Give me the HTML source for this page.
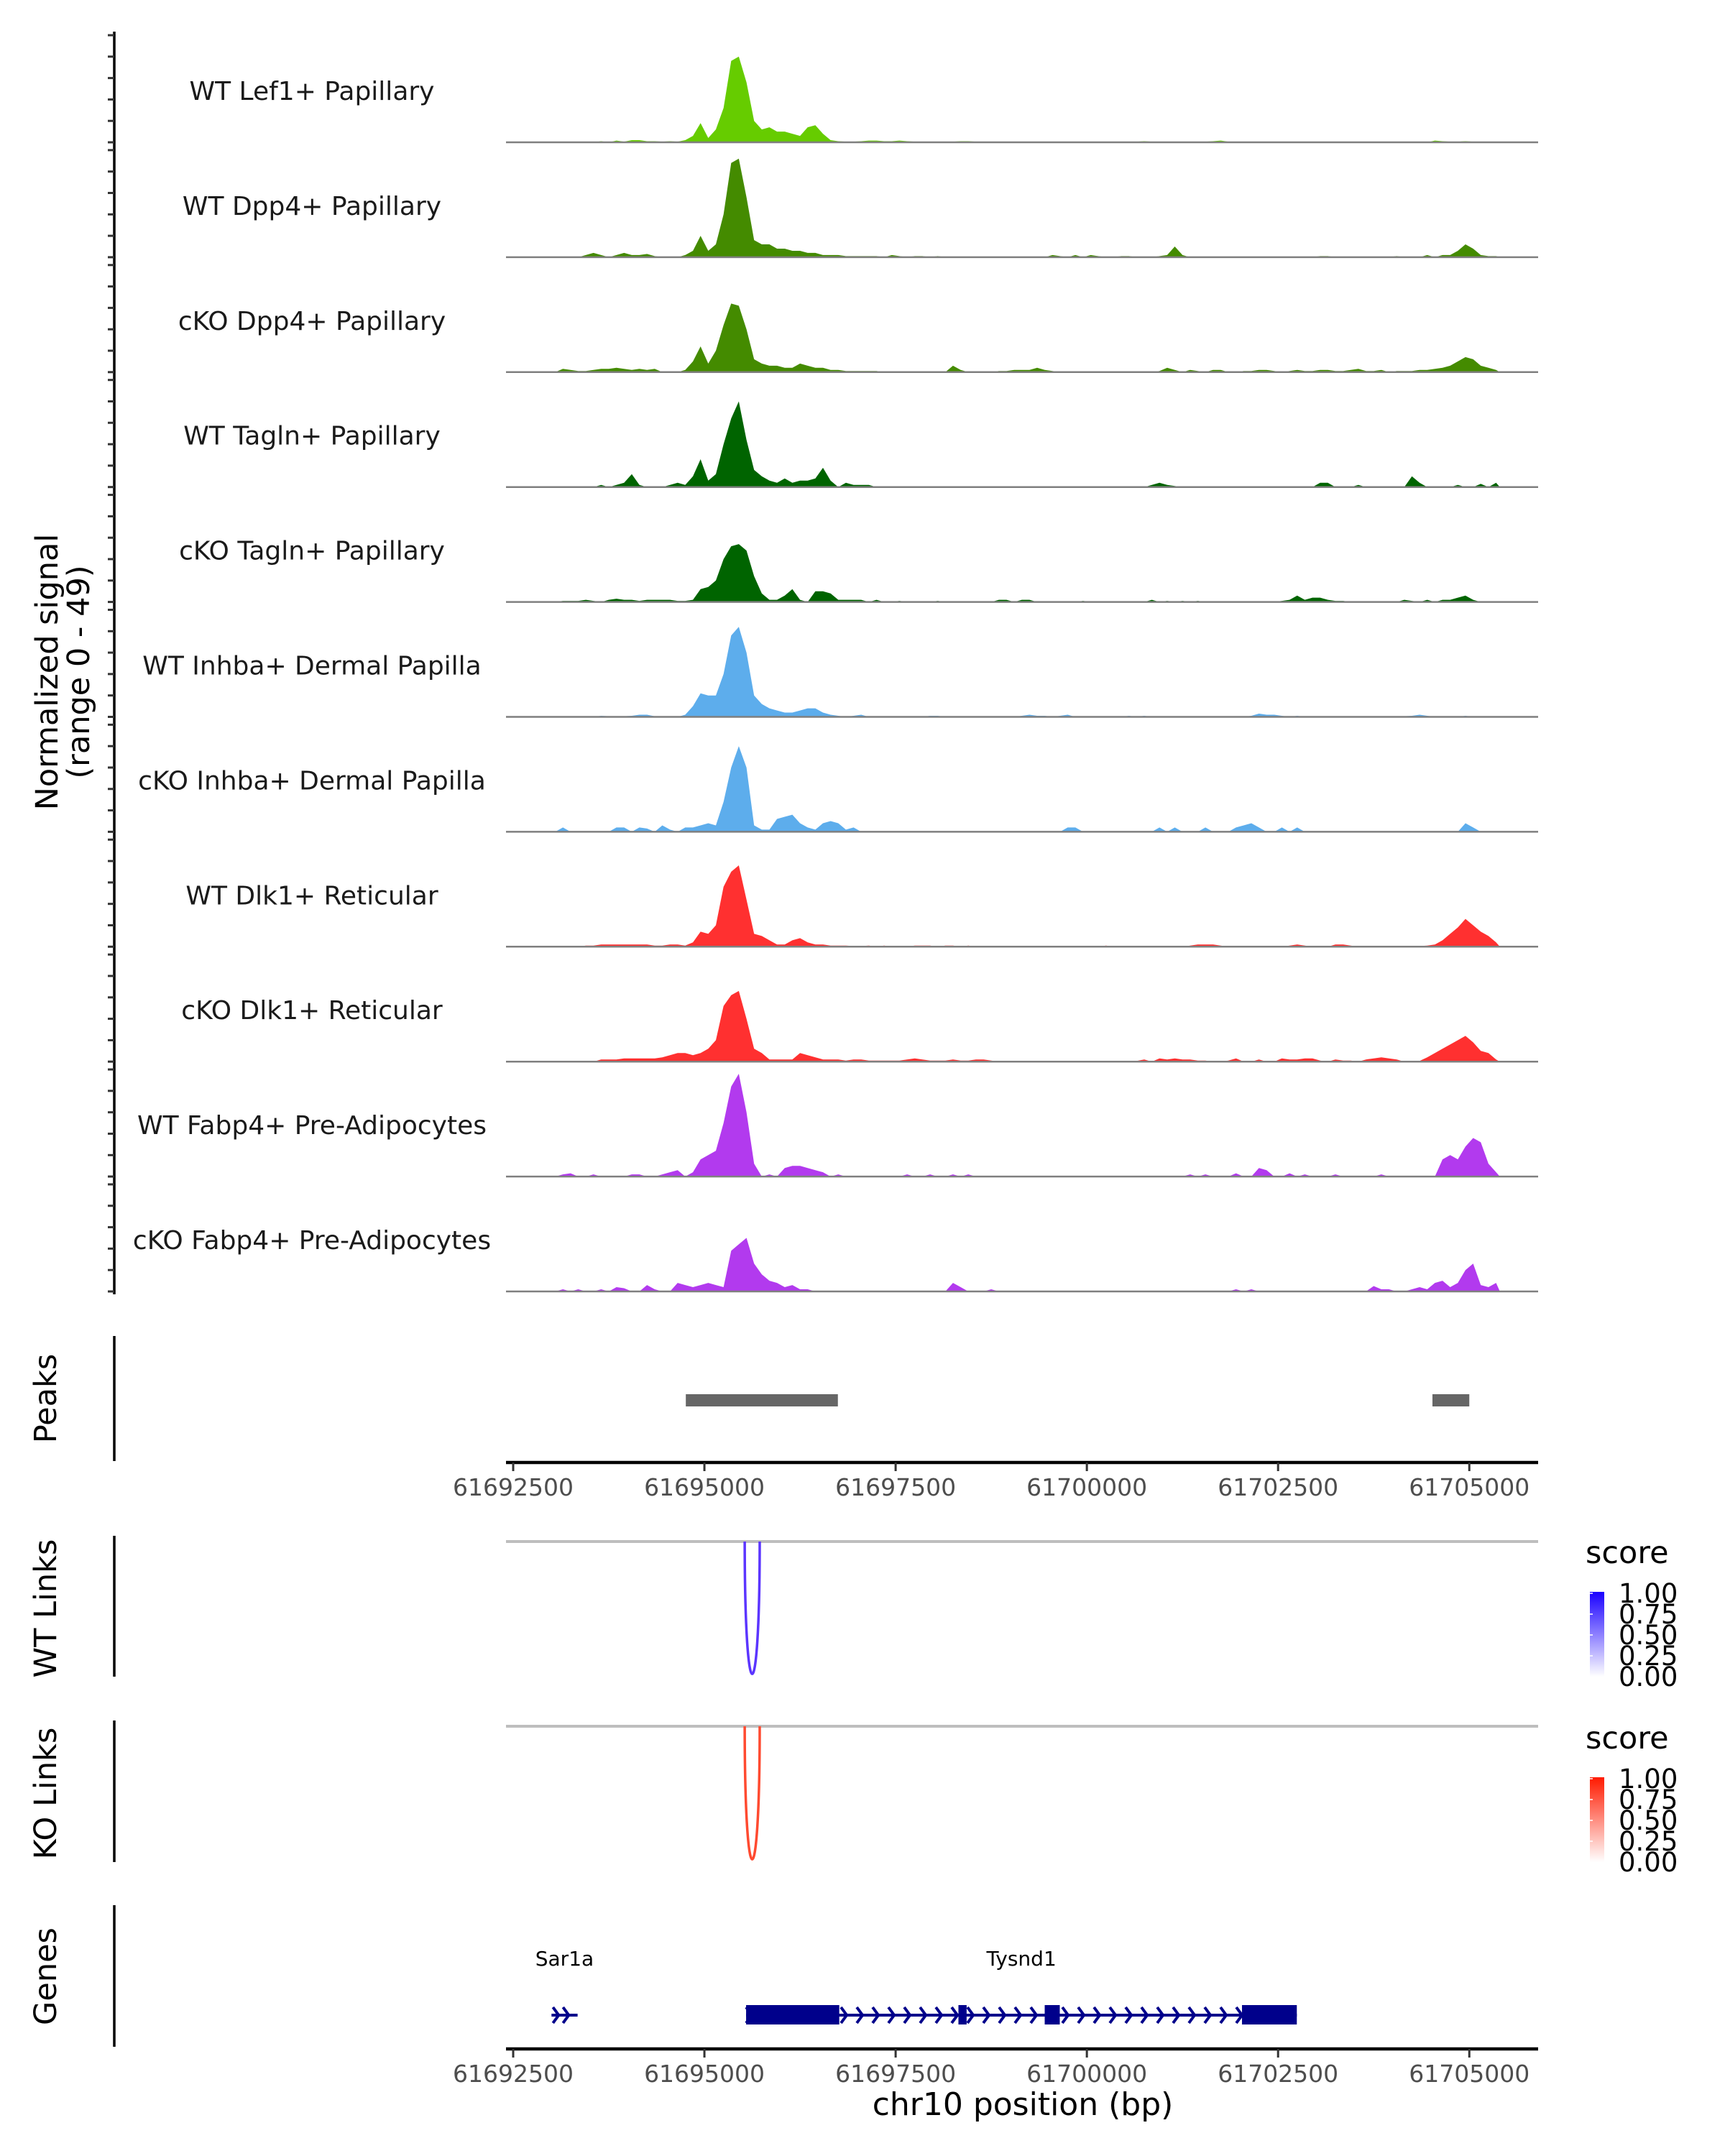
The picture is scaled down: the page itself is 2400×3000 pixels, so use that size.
<!DOCTYPE html>
<html><head><meta charset="utf-8">
<style>
html,body{margin:0;padding:0;background:#fff;}
svg{display:block;font-family:"DejaVu Sans","Liberation Sans",sans-serif;}
</style></head>
<body>
<svg id="chart" width="2400" height="3000" viewBox="0 0 2400 3000" xmlns="http://www.w3.org/2000/svg">
<defs>
<linearGradient id="gBlue" x1="0" y1="1" x2="0" y2="0"><stop offset="0" stop-color="#ffffff"/><stop offset="1" stop-color="#1a00ff"/></linearGradient>
<linearGradient id="gRed" x1="0" y1="1" x2="0" y2="0"><stop offset="0" stop-color="#ffffff"/><stop offset="1" stop-color="#ff1a00"/></linearGradient>
</defs>
</svg>
<script>
// ---------- data ----------
const binStart = 61693000;
const binSize = 100;
const trackNames = ["WT Lef1+ Papillary","WT Dpp4+ Papillary","cKO Dpp4+ Papillary","WT Tagln+ Papillary","cKO Tagln+ Papillary","WT Inhba+ Dermal Papilla","cKO Inhba+ Dermal Papilla","WT Dlk1+ Reticular","cKO Dlk1+ Reticular","WT Fabp4+ Pre-Adipocytes","cKO Fabp4+ Pre-Adipocytes"];
const trackColors = ["#66cc00","#448b00","#448b00","#006400","#006400","#5dadec","#5dadec","#ff3030","#ff3030","#b23aee","#b23aee"];
const sigLef1WT = [0,0,0,0.3,0.3,0,0.5,0,0.8,0.3, 1,1,0.5,0.5,0.3,0.5,0.3,1,3,9, 2,6,16,38,40,28,10,6,7,5, 5,4,3,7,8,4,1,0.5,0.3,0.3, 0.5,0.8,0.8,0.5,0.5,0.8,0.5,0.3,0.3,0.3, 0.3,0,0.3,0.5,0.5,0.3,0.3,0,0.3,0, 0,0.3,0,0,0.3,0,0.3,0.3,0,0, 0,0,0,0.3,0.3,0,0.3,0.5,0.3,0.3, 0.3,0.3,0,0.3,0.3,0.3,0.5,0.8,0.3,0, 0,0,0.3,0.3,0.3,0,0.3,0,0,0, 0.3,0.3,0,0.3,0.3,0,0,0,0,0, 0,0,0.3,0.3,0,0.8,0.5,0.3,0.3,0.5, 0.3,0.3,0,0];
const sigDpp4WT = [0,0,0,0,1,2,1,0,1,2, 1,1,1.5,0.5,0,0,0,1,3,10, 3,6,20,44,46,28,8,6,6,4, 4,3,3,2,2,1,1,1,0.5,0.5, 0.5,0.5,0.5,0,1,0.5,0,0.5,0.5,0, 0.5,0,0,0,0,0,0,0,0,0, 0,0,0,0,0,1,0.5,0,1,0, 1,0.5,0,0,0.5,0.5,0,0,0,0.5, 1,5,1,0,0,0,0,0,0,0, 0,0,0,0,0,0,0,0,0,0, 0.5,0.5,0,0,0,0,0,0,0,0, 0.5,0,0,0,1,0,1,1,3,6, 4,1,0.5,0.5];
const sigDpp4KO = [0,1.5,1,0.5,0.5,1,1.5,1.5,2,1.5, 1,1.5,1,1.5,0,0,0,1,5,12, 4,10,22,32,31,20,6,4,3,3, 2,2,4,3,2,2,1,1,0.5,0.5, 0.5,0.5,0.5,0,0.3,0.3,0,0.3,0,0, 0,0,3,1,0,0,0,0,0.5,0.5, 1,1,1,2,1,0.5,0,0,0.3,0.3, 0.3,0.3,0,0.3,0,0.3,0,0,0,0.5, 2,1,0,1,0.5,0,1,1,0,0, 0.5,0.5,1,1,0.5,0,0.5,1,0.5,0.5, 1,1,0.5,0.5,1,1.5,0.5,0.5,1,0, 0.5,0.5,0.5,1,1,1.5,2,3,5,7, 6,3,2,1];
const sigTaglnWT = [0,0,0,0,0,0,1,0,1,2, 6,1,0,0,0,1,2,1,5,13, 3,6,20,32,40,22,8,5,3,2, 4,2,3,3,4,9,3,0,2,1, 1,1,0,0,0,0,0,0,0,0, 0,0,0,0,0,0,0,0,0,0, 0,0,0,0,0,0,0,0,0,0, 0,0,0,0,0,0,0,0,1,2, 1,0.5,0,0,0,0,0,0,0,0, 0,0,0,0,0,0,0,0,0,0, 2,2,0,0,0,1,0,0,0,0, 0,0,5,2,0,0,0,0,1,0, 0,1.5,0,2];
const sigTaglnKO = [0,0.5,0.5,0.5,1,0.5,0,1,1.5,1, 1,0.5,1,1,1,1,0.5,0.5,1,6, 7,10,20,26,27,24,12,4,1,1, 3,6,1,0,5,5,4,1,1,1, 1,0,1,0,0,0.5,0,0,0,0, 0.5,0,0,0,0,0,0,0,1,1, 0,1,1,0,0,0,0,0,0,0.5, 0,0,0,0,0,0,0,0,1,0, 0.5,0,0.5,0,0.5,0,0,0,0,0, 0,0,0,0,0,0.5,1,3,1,2, 2,1,0.5,0.5,0,0,0,0,0,0, 0,1,0.5,0,1,0,1,1,2,3, 1,0,0,0];
const sigInhbaWT = [0,0,0,0.3,0.3,0,0.5,0.3,0,0.3, 0.5,1,1,0.3,0,0,0,1,5,11, 10,10,20,38,42,30,10,6,4,3, 2,2,3,4,4,2,1,0.5,0,0.5, 1,0,0,0,0,0.3,0,0,0,0.5, 0.5,0,0,0,0,0,0,0,0.3,0, 0,0.5,1,0.5,0.5,0,0.5,1,0,0, 0,0,0,0,0,0.5,0,0.5,0,0, 0,0,0,0,0,0,0,0.3,0,0.3, 0,0.5,1.5,1,1,0.5,0,0.5,0,0, 0,0,0,0,0,0,0,0,0,0, 0,0.3,0.5,1,0.5,0,0,0,0,0.5, 0,0,0,0];
const sigInhbaKO = [0,2,0,0,0,0,0,0,2,2, 0,2,1.5,0,3,1,0,2,2,3, 4,3,14,30,40,30,3,1,1,6, 7,8,4,2,1,4,5,4,1,2, 0,0,0,0,0,0,0,0,0,0, 0,0,0,0,0,0,0,0,0,0, 0,0,0,0,0,0,0,2,2,0, 0,0,0,0,0,0,0,0,0,2, 0,2,0,0,0,2,0,0,0,2, 3,4,2,0,0,2,0,2,0,0, 0,0,0,0,0,0,0,0,0,0, 0,0,0,0,0,0,0,0,0,4, 2,0,0,0];
const sigDlk1WT = [0,0,0,0,0.5,0.5,1,1,1,1, 1,1,1,0.5,0.5,1,1,0.5,2,7, 6,10,28,35,38,22,6,5,3,1, 1,3,4,2,1,1,0.5,0.5,0.5,0.3, 0.3,0.5,0,0.5,0,0,0,0.5,0.5,0.5, 0,0.5,0.5,0,0.5,0,0,0,0,0, 0,0,0,0,0,0,0,0,0,0, 0,0,0.5,0,0,0,0,0,0,0, 0,0,0,0.5,1,1,1,0.5,0,0, 0,0,0,0,0,0,0.5,1,0.5,0, 0,0,1,1,0.5,0,0,0,0,0, 0,0,0.3,0.3,0.5,1,3,6,9,13, 10,7,5,2];
const sigDlk1KO = [0,0.3,0,0,0.3,0,1,1,1,1.5, 1.5,1.5,1.5,1.5,2,3,4,4,3,4, 6,10,26,31,33,20,6,4,1,1, 1,1,4,3,2,1,1,1,0.5,1, 1,0.5,0.5,0.5,0.5,0.5,1,1.5,1,0.5, 0.5,0.5,1,0.5,0.5,1,1,0.5,0,0.3, 0,0,0,0,0,0,0,0,0,0, 0,0,0,0,0,0,0.3,1,0,1.5, 1,1.5,1,1,0.5,0.5,0,0,0.5,1.5, 0,0,1,0,0,1.5,1,1,1.5,1.5, 0.5,0,1,0.5,0.5,0,1,1.5,2,1.5, 1,0,0,0.3,2,4,6,8,10,12, 9,5,4,1];
const sigFabp4WT = [0,1,1.5,0,0,1,0,0,0,0, 1,1,0,0,1,2,3,0,2,8, 10,12,25,42,48,30,6,0,1,0, 4,5,5,4,3,2,0,1,0,0, 0,0,0,0,0,0,1,0,0,1, 0,0,1,0,1,0,0,0,0,0, 0,0,0,0,0,0,0,0,0,0, 0,0,0,0,0,0,0,0,0,0, 0,0,0,1,0,1,0,0,0,1.5, 0,0,4,3,0,0,1.5,0,1,0, 0,0,1,0,0,0,0,0,1,0, 0,0,0,0,0,0,8,10,8,14, 18,16,6,2];
const sigFabp4KO = [0,1,0,1,0,0,1,0,2,1.5, 0,0,3,1,0,0,4,3,2,3, 4,3,2,19,22,25,13,8,5,4, 2,3,1,1,0,0,0,0,0,0, 0,0,0,0,0,0,0,0,0,0, 0,0,4,2,0,0,0,1,0,0, 0,0,0,0,0,0,0,0,0,0, 0,0,0,0,0,0,0,0,0,0, 0,0,0,0,0,0,0,0,0,1, 0,1,0,0,0,0,0,0,0,0, 0,0,0,0,0,0,0,2.5,1,1, 0,0,1,2,1,4,5,2,4,10, 13,3,2,4];
const peakStarts = [61694757, 61704518];
const peakEnds = [61696745, 61705000];
const xTicks = [61692500, 61695000, 61697500, 61700000, 61702500, 61705000];
const linkStartsWT = [61695527]; const linkEndsWT = [61695723]; const linkScoresWT = [0.8];
const linkStartsKO = [61695527]; const linkEndsKO = [61695723]; const linkScoresKO = [0.8];
const legendTicks = ["1.00","0.75","0.50","0.25","0.00"];
const exonStarts = [61695545, 61698321, 61699449, 61702028];
const exonEnds = [61696763, 61698428, 61699646, 61702745];
const geneNames = ["Sar1a","Tysnd1"];
const geneStarts = [61693001, 61695545];
const geneEnds = [61693342, 61702745];

const signals = [sigLef1WT,sigDpp4WT,sigDpp4KO,sigTaglnWT,sigTaglnKO,sigInhbaWT,sigInhbaKO,sigDlk1WT,sigDlk1KO,sigFabp4WT,sigFabp4KO];

// ---------- scales ----------
const X0 = 704, X1 = 2140;
const xScale = bp => 714 + (bp - 61692500) * 0.10642;
const trackBase = i => 198 + i * 159.9;
const unitPx = 2.98;
const yScale = (i, v) => trackBase(i) - v * unitPx;

const svg = document.getElementById('chart');
const NS = 'http://www.w3.org/2000/svg';
function mk(tag, attrs, parent) {
  const e = document.createElementNS(NS, tag);
  for (const k in attrs) e.setAttribute(k, attrs[k]);
  (parent || svg).appendChild(e);
  return e;
}

// ---------- left axis for tracks ----------
let el = mk('line', {x1:159, y1:44, x2:159, y2:1801, stroke:'#000', 'stroke-width':3.5});


for (let i = 0; i < 11; i++) {
  for (let t = 0; t <= 50; t += 10) {
    const y = yScale(i, t);
    el = mk('line', {x1:150, y1:y, x2:159, y2:y, stroke:'#333', 'stroke-width':3});
    
    
  }
}
el = mk('text', {x:0, y:0, 'font-size':43, 'text-anchor':'middle', fill:'#000', transform:'translate(80,935) rotate(-90)'});


el.textContent = 'Normalized signal';
el = mk('text', {x:0, y:0, 'font-size':43, 'text-anchor':'middle', fill:'#000', transform:'translate(124,935) rotate(-90)'});


el.textContent = '(range 0 - 49)';

// ---------- tracks ----------
for (let i = 0; i < 11; i++) {
  const g = mk('g', {});
  
  
  const vals = signals[i];
  const base = trackBase(i);
  let d = 'M' + xScale(binStart).toFixed(1) + ',' + base.toFixed(1);
  for (let k = 0; k < vals.length; k++) {
    const bp = binStart + k * binSize + binSize / 2;
    d += ' L' + xScale(bp).toFixed(1) + ',' + yScale(i, vals[k]).toFixed(1);
  }
  d += ' L' + xScale(binStart + vals.length * binSize).toFixed(1) + ',' + base.toFixed(1) + ' Z';
  el = mk('path', {d: d, fill: trackColors[i], stroke: 'none'}, g);
  
  
  el = mk('line', {x1:X0, y1:base, x2:X1, y2:base, stroke:'#7f7f7f', 'stroke-width':2.5}, g);
  
  
  el = mk('text', {x:434, y:base - 59, 'font-size':36, 'text-anchor':'middle', fill:'#1a1a1a'}, g);
  
  
  el.textContent = trackNames[i];
}

// lower section group shifted up slightly
const low = mk('g', {transform:'translate(0,-7)'});



// ---------- peaks ----------
el = mk('line', {x1:159, y1:1866, x2:159, y2:2040, stroke:'#000', 'stroke-width':3.5}, low);


el = mk('text', {x:0, y:0, 'font-size':43, 'text-anchor':'middle', fill:'#000', transform:'translate(78,1953) rotate(-90)'}, low);


el.textContent = 'Peaks';
for (let p = 0; p < peakStarts.length; p++) {
  el = mk('rect', {x:xScale(peakStarts[p]), y:1947, width:xScale(peakEnds[p]) - xScale(peakStarts[p]), height:17, fill:'#666666'}, low);
  
  
}

// ---------- x axes ----------
function xAxis(y, name) {
  const g = mk('g', {}, low);
  
  
  el = mk('line', {x1:X0, y1:y, x2:X1, y2:y, stroke:'#000', 'stroke-width':4.5}, g);
  
  
  for (const t of xTicks) {
    const x = xScale(t);
    el = mk('line', {x1:x, y1:y, x2:x, y2:y + 12, stroke:'#333', 'stroke-width':3}, g);
    
    
    el = mk('text', {x:x, y:y + 46, 'font-size':33, 'text-anchor':'middle', fill:'#4d4d4d'}, g);
    
    
    el.textContent = String(t);
  }
}
xAxis(2042, 'peaks-x-axis');

// ---------- links ----------
function linksPanel(top, bottom, label, starts, ends, scores, color, grad, legendY) {
  el = mk('line', {x1:159, y1:top - 8, x2:159, y2:bottom + 2, stroke:'#000', 'stroke-width':3.5}, low);
  
  
  el = mk('text', {x:0, y:0, 'font-size':43, 'text-anchor':'middle', fill:'#000', transform:'translate(78,' + ((top + bottom) / 2) + ') rotate(-90)'}, low);
  
  
  el.textContent = label;
  el = mk('line', {x1:X0, y1:top, x2:X1, y2:top, stroke:'#bebebe', 'stroke-width':4}, low);
  
  
  for (let k = 0; k < starts.length; k++) {
    const a = xScale(starts[k]), b = xScale(ends[k]);
    const cy = top + (bottom - top) / 0.75 * scores[k] / 0.8 * 0.99;
    el = mk('path', {d:'M' + a + ',' + top + ' C' + a + ',' + cy + ' ' + b + ',' + cy + ' ' + b + ',' + top, fill:'none', stroke:color, 'stroke-width':3.5}, low);
    
    
  }
  el = mk('text', {x:2206, y:legendY, 'font-size':43, fill:'#000'}, low);
  
  
  el.textContent = 'score';
  const barTop = legendY + 40;
  el = mk('rect', {x:2212, y:barTop, width:20, height:118, fill:'url(#' + grad + ')'}, low);
  
  
  for (let k = 0; k < legendTicks.length; k++) {
    const y = barTop + 2 + k * 29;
    el = mk('text', {x:2252, y:y + 13, 'font-size':37, fill:'#000'}, low);
    
    
    el.textContent = legendTicks[k];
    el = mk('line', {x1:2212, y1:y, x2:2216, y2:y, stroke:'#fff', 'stroke-width':1.5}, low);
    
    
  }
}
linksPanel(2152, 2338, 'WT Links', linkStartsWT, linkEndsWT, linkScoresWT, '#5b35ff', 'gBlue', 2182);
linksPanel(2409, 2596, 'KO Links', linkStartsKO, linkEndsKO, linkScoresKO, '#ff4a30', 'gRed', 2440);

// ---------- genes ----------
el = mk('line', {x1:159, y1:2658, x2:159, y2:2855, stroke:'#000', 'stroke-width':3.5}, low);


el = mk('text', {x:0, y:0, 'font-size':43, 'text-anchor':'middle', fill:'#000', transform:'translate(78,2757) rotate(-90)'}, low);


el.textContent = 'Genes';
const GY = 2811, NAVY = '#00008b';
for (let g = 0; g < geneNames.length; g++) {
  const a = xScale(geneStarts[g]), b = xScale(geneEnds[g]);
  const grp = mk('g', {}, low);
  
  
  el = mk('line', {x1:a, y1:GY, x2:b, y2:GY, stroke:NAVY, 'stroke-width':4}, grp);
  
  
  const step = g === 0 ? 14 : 22;
  for (let x = a + (g === 0 ? 6 : 4); x < b - 4; x += step) {
    el = mk('path', {d:'M' + (x - 4) + ',' + (GY - 11) + ' L' + (x + 4) + ',' + GY + ' L' + (x - 4) + ',' + (GY + 11), fill:'none', stroke:NAVY, 'stroke-width':4}, grp);
    
    
  }
  el = mk('text', {x:(a + b) / 2, y:2742, 'font-size':28, 'text-anchor':'middle', fill:'#000'}, grp);
  
  
  el.textContent = geneNames[g];
}
for (let e = 0; e < exonStarts.length; e++) {
  const a = xScale(exonStarts[e]), b = xScale(exonEnds[e]);
  el = mk('rect', {x:a, y:2797, width:b - a, height:27, fill:NAVY}, low);
  
  
}
xAxis(2858, 'genes-x-axis');
el = mk('text', {x:1423, y:2950, 'font-size':44, 'text-anchor':'middle', fill:'#000'}, low);


el.textContent = 'chr10 position (bp)';
</script>
</body></html>
